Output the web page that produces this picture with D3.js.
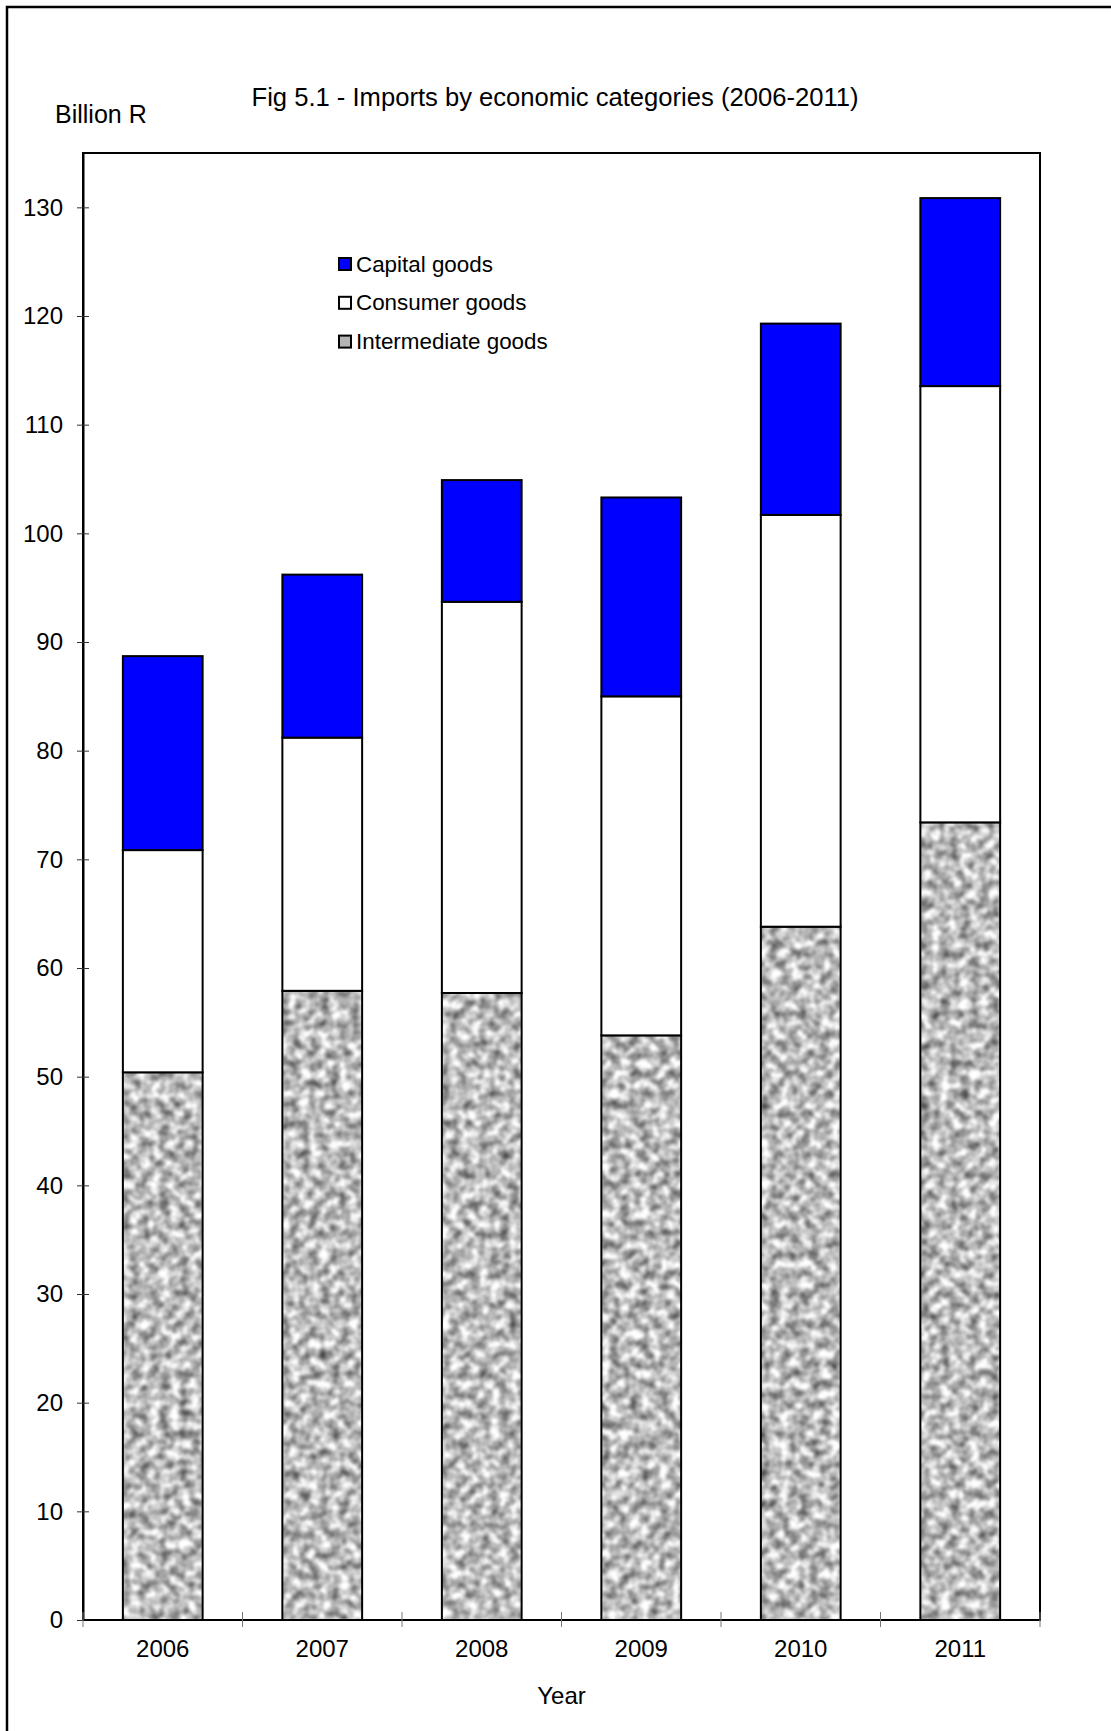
<!DOCTYPE html>
<html>
<head>
<meta charset="utf-8">
<title>Fig 5.1 - Imports by economic categories (2006-2011)</title>
<script src="https://cdn.jsdelivr.net/npm/d3@7"></script>
<style>
  html, body { margin: 0; padding: 0; background: #fff; }
  svg { display: block; font-family: "Liberation Sans", Arial, sans-serif; }
</style>
</head>
<body>
<svg id="chart" width="1111" height="1731"></svg>
<script>
// Imports by economic category, billion rupees
const years = ["2006", "2007", "2008", "2009", "2010", "2011"];
const intermediateGoods = [50.4, 57.9, 57.7, 53.8, 63.8, 73.4];
const consumerGoods     = [20.45, 23.3, 36.0, 31.2, 37.9, 40.15];
const capitalGoods      = [17.85, 15.0, 11.2, 18.3, 17.6, 17.3];
const yTicks = [0, 10, 20, 30, 40, 50, 60, 70, 80, 90, 100, 110, 120, 130];
const seriesNames = ["Intermediate goods", "Consumer goods", "Capital goods"];

const svg = d3.select("#chart");
const W = 1111, H = 1731;
const plot = { left: 83, right: 1040, top: 153, bottom: 1620 };

svg.append("rect").attr("width", W).attr("height", H).attr("fill", "#fff");

// soft granite-like texture for the intermediate goods segments
const defs = svg.append("defs");
const f = defs.append("filter")
  .attr("id", "granite")
  .attr("x", 0).attr("y", 0).attr("width", 1).attr("height", 1)
  .attr("color-interpolation-filters", "sRGB");
f.append("feTurbulence")
  .attr("type", "fractalNoise")
  .attr("baseFrequency", 0.1)
  .attr("numOctaves", 2)
  .attr("seed", 11)
  .attr("result", "noise");
f.append("feColorMatrix")
  .attr("in", "noise")
  .attr("type", "matrix")
  .attr("values", "1.15 0 0 0 0.16  1.15 0 0 0 0.16  1.15 0 0 0 0.16  0 0 0 0 1")
  .attr("result", "gray");
f.append("feGaussianBlur")
  .attr("in", "gray").attr("stdDeviation", 0.8).attr("result", "soft");
f.append("feComposite")
  .attr("in", "soft").attr("in2", "SourceGraphic").attr("operator", "in");

// outer frame
svg.append("rect")
  .attr("x", 7).attr("y", 7).attr("width", 1300).attr("height", 1900)
  .attr("fill", "none").attr("stroke", "#000").attr("stroke-width", 2.5);

const x = d3.scaleBand()
  .domain(years)
  .range([plot.left, plot.right])
  .paddingInner(0.5)
  .paddingOuter(0.25);

const y = d3.scaleLinear().domain([0, 135]).range([plot.bottom, plot.top]);

// plot frame
svg.append("rect")
  .attr("x", plot.left).attr("y", plot.top)
  .attr("width", plot.right - plot.left).attr("height", plot.bottom - plot.top)
  .attr("fill", "none").attr("stroke", "#000").attr("stroke-width", 2);

// stacked data
const rows = years.map((yr, i) => ({
  year: yr,
  "Intermediate goods": intermediateGoods[i],
  "Consumer goods": consumerGoods[i],
  "Capital goods": capitalGoods[i]
}));
const stacked = d3.stack().keys(seriesNames)(rows);
const fills = {
  "Intermediate goods": "#999",
  "Consumer goods": "#fff",
  "Capital goods": "#0000ff"
};

const layers = svg.append("g").selectAll("g")
  .data(stacked).join("g");

layers.selectAll("rect.fill")
  .data(d => d.map(p => ({ key: d.key, p })))
  .join("rect")
  .attr("class", "fill")
  .attr("x", d => x(d.p.data.year))
  .attr("width", x.bandwidth())
  .attr("y", d => y(d.p[1]))
  .attr("height", d => y(d.p[0]) - y(d.p[1]))
  .attr("fill", d => fills[d.key])
  .attr("filter", d => d.key === "Intermediate goods" ? "url(#granite)" : null);

layers.selectAll("rect.edge")
  .data(d => d.map(p => ({ key: d.key, p })))
  .join("rect")
  .attr("class", "edge")
  .attr("x", d => x(d.p.data.year))
  .attr("width", x.bandwidth())
  .attr("y", d => y(d.p[1]))
  .attr("height", d => y(d.p[0]) - y(d.p[1]))
  .attr("fill", "none")
  .attr("stroke", "#000")
  .attr("stroke-width", 2);

// y axis: crossing ticks, labels to the left
const yAxis = svg.append("g").attr("transform", `translate(${plot.left},0)`)
  .call(d3.axisLeft(y).tickValues(yTicks).tickSize(6).tickSizeOuter(0).tickPadding(14));
yAxis.select(".domain").attr("stroke", "#000").attr("stroke-width", 2);
yAxis.selectAll(".tick line").attr("x2", 6).attr("x1", -6).attr("stroke", "#333");
yAxis.selectAll(".tick text")
  .attr("font-size", 24).attr("fill", "#000")
  .attr("font-family", "Liberation Sans, Arial, sans-serif");

// x axis: ticks on category boundaries
const xAxisG = svg.append("g").attr("transform", `translate(0,${plot.bottom})`);
xAxisG.append("line")
  .attr("x1", plot.left).attr("x2", plot.right)
  .attr("stroke", "#000").attr("stroke-width", 2);
const edges = d3.range(years.length + 1).map(i => plot.left + i * x.step());
xAxisG.selectAll("line.tick")
  .data(edges).join("line")
  .attr("class", "tick")
  .attr("x1", d => d).attr("x2", d => d)
  .attr("y1", -8).attr("y2", 7)
  .attr("stroke", "#777").attr("stroke-width", 1);
xAxisG.selectAll("text")
  .data(years).join("text")
  .attr("x", d => x(d) + x.bandwidth() / 2)
  .attr("y", 37)
  .attr("text-anchor", "middle")
  .attr("font-size", 24)
  .text(d => d);

// titles
svg.append("text")
  .attr("x", 555).attr("y", 106)
  .attr("text-anchor", "middle")
  .attr("font-size", 25.6)
  .text("Fig 5.1 - Imports by economic categories (2006-2011)");
svg.append("text")
  .attr("x", 55).attr("y", 123)
  .attr("font-size", 25)
  .text("Billion R");
svg.append("text")
  .attr("x", (plot.left + plot.right) / 2).attr("y", 1704)
  .attr("text-anchor", "middle")
  .attr("font-size", 24)
  .text("Year");

// legend
const legendItems = ["Capital goods", "Consumer goods", "Intermediate goods"];
const legend = svg.append("g").attr("transform", "translate(339,258)");
const li = legend.selectAll("g").data(legendItems).join("g")
  .attr("transform", (d, i) => `translate(0,${i * 38.8})`);
li.append("rect")
  .attr("width", 12).attr("height", 12)
  .attr("fill", d => d === "Intermediate goods" ? "#b4b4b4" : fills[d]);
li.append("rect")
  .attr("width", 12).attr("height", 12)
  .attr("fill", "none").attr("stroke", "#000").attr("stroke-width", 2);
li.append("text")
  .attr("x", 17).attr("y", 13.5)
  .attr("font-size", 22.4)
  .text(d => d);
</script>
</body>
</html>
